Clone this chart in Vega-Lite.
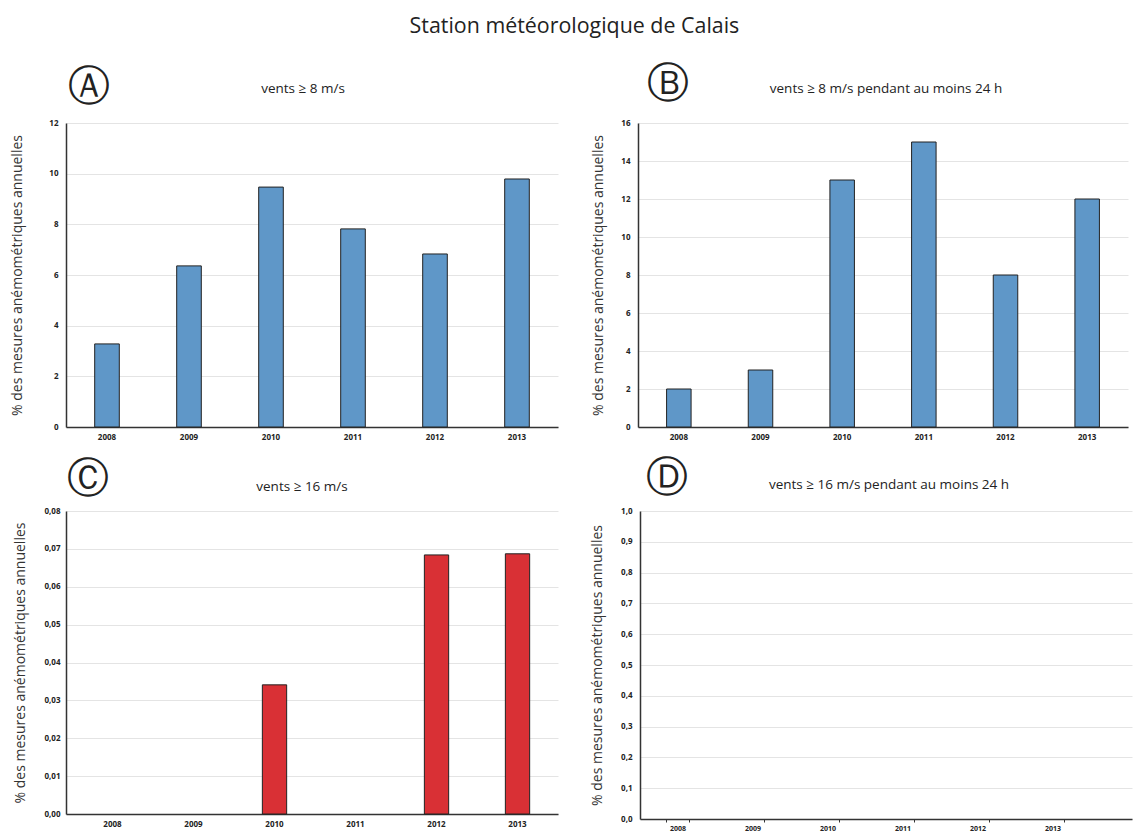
{
  "$schema": "https://vega.github.io/schema/vega-lite/v6.json",
  "padding": {"left": 10, "top": 15, "right": 2, "bottom": 0},
  "background": "white",
  "title": {"text": "Station météorologique de Calais", "fontSize": 21.4, "font": "Open Sans", "fontWeight": "normal", "color": "#222", "anchor": "middle", "frame": "bounds", "offset": 25, "dx": 3},
  "datasets": {
    "a": [{"annee": "2008", "valeur": 3.28}, {"annee": "2009", "valeur": 6.36}, {"annee": "2010", "valeur": 9.47}, {"annee": "2011", "valeur": 7.82}, {"annee": "2012", "valeur": 6.83}, {"annee": "2013", "valeur": 9.79}],
    "b": [{"annee": "2008", "valeur": 2}, {"annee": "2009", "valeur": 3}, {"annee": "2010", "valeur": 13}, {"annee": "2011", "valeur": 15}, {"annee": "2012", "valeur": 8}, {"annee": "2013", "valeur": 12}],
    "c": [{"annee": "2008", "valeur": 0}, {"annee": "2009", "valeur": 0}, {"annee": "2010", "valeur": 0.0341}, {"annee": "2011", "valeur": 0}, {"annee": "2012", "valeur": 0.0684}, {"annee": "2013", "valeur": 0.0687}],
    "d": [{"annee": "2008", "valeur": 0}, {"annee": "2009", "valeur": 0}, {"annee": "2010", "valeur": 0}, {"annee": "2011", "valeur": 0}, {"annee": "2012", "valeur": 0}, {"annee": "2013", "valeur": 0}]
  },
  "config": {
    "locale": {"number": {"decimal": ",", "thousands": " ", "grouping": [3], "currency": ["", " €"]}},
    "view": {"stroke": null},
    "font": "Open Sans",
    "title": {"font": "Open Sans", "fontSize": 13.5, "fontWeight": "normal", "color": "#222"},
    "axis": {
      "labelFont": "Open Sans", "labelFontWeight": "bold", "labelFontSize": 8, "labelColor": "#222",
      "titleFont": "Open Sans", "titleFontWeight": "normal", "titleFontSize": 14, "titleColor": "#333",
      "domainColor": "#333", "domainWidth": 1.5, "gridColor": "#e4e4e4", "gridWidth": 1
    }
  },
  "spacing": 15,
  "vconcat": [
    {
      "spacing": 33,
      "hconcat": [
        {
          "width": 492, "height": 304,
          "data": {"name": "a"},
          "title": {"text": "vents ≥ 8 m/s", "anchor": "middle", "frame": "group", "dx": -9, "dy": 34},
          "layer": [
            {
              "transform": [{"filter": "datum.valeur > 0"}],
              "mark": {"type": "bar", "color": "#5f97c8", "stroke": "#222", "strokeWidth": 1},
              "encoding": {
                "x": {"field": "annee", "type": "ordinal", "scale": {"domain": ["2008", "2009", "2010", "2011", "2012", "2013"], "paddingInner": 0.7, "paddingOuter": 0.35}, "axis": {"title": null, "labelAngle": 0, "ticks": false, "labelPadding": 6, "grid": false}},
                "y": {"field": "valeur", "type": "quantitative", "scale": {"domain": [0, 12]}, "axis": {"values": [0, 2, 4, 6, 8, 10, 12], "ticks": false, "labelPadding": 8, "title": "% des mesures anémométriques annuelles", "titlePadding": 24}}
              }
            },
            {
              "mark": {"type": "tick", "opacity": 0},
              "encoding": {
                "x": {"field": "annee", "type": "ordinal", "axis": {"orient": "top", "labels": false, "ticks": false, "domain": false, "grid": false, "title": "Ⓐ", "titleFont": "DejaVu Sans", "titleFontSize": 42, "titleColor": "#222", "titleAlign": "center", "titleBaseline": "middle", "titleX": 22, "titleY": -37}}
              }
            }
          ],
          "resolve": {"axis": {"x": "independent"}}
        },
        {
          "width": 490, "height": 304,
          "data": {"name": "b"},
          "title": {"text": "vents ≥ 8 m/s pendant au moins 24 h", "anchor": "middle", "frame": "group", "dx": 3, "dy": 37},
          "layer": [
            {
              "transform": [{"filter": "datum.valeur > 0"}],
              "mark": {"type": "bar", "color": "#5f97c8", "stroke": "#222", "strokeWidth": 1},
              "encoding": {
                "x": {"field": "annee", "type": "ordinal", "scale": {"domain": ["2008", "2009", "2010", "2011", "2012", "2013"], "paddingInner": 0.7, "paddingOuter": 0.35}, "axis": {"title": null, "labelAngle": 0, "ticks": false, "labelPadding": 6, "grid": false}},
                "y": {"field": "valeur", "type": "quantitative", "scale": {"domain": [0, 16]}, "axis": {"values": [0, 2, 4, 6, 8, 10, 12, 14, 16], "ticks": false, "labelPadding": 8, "title": "% des mesures anémométriques annuelles", "titlePadding": 15}}
              }
            },
            {
              "mark": {"type": "tick", "opacity": 0},
              "encoding": {
                "x": {"field": "annee", "type": "ordinal", "axis": {"orient": "top", "labels": false, "ticks": false, "domain": false, "grid": false, "title": "Ⓑ", "titleFont": "DejaVu Sans", "titleFontSize": 42, "titleColor": "#222", "titleAlign": "center", "titleBaseline": "middle", "titleX": 29, "titleY": -40}}
              }
            }
          ],
          "resolve": {"axis": {"x": "independent"}}
        }
      ]
    },
    {
      "spacing": 32,
      "hconcat": [
        {
          "width": 492, "height": 303,
          "data": {"name": "c"},
          "title": {"text": "vents ≥ 16 m/s", "anchor": "middle", "frame": "group", "dx": -10, "dy": 40},
          "layer": [
            {
              "transform": [{"filter": "datum.valeur > 0"}],
              "mark": {"type": "bar", "color": "#d93035", "stroke": "#222", "strokeWidth": 1},
              "encoding": {
                "x": {"field": "annee", "type": "ordinal", "scale": {"domain": ["2008", "2009", "2010", "2011", "2012", "2013"], "paddingInner": 0.7, "paddingOuter": 0.387, "align": 0.548}, "axis": {"title": null, "labelAngle": 0, "ticks": false, "labelPadding": 6, "grid": false}},
                "y": {"field": "valeur", "type": "quantitative", "scale": {"domain": [0, 0.08]}, "axis": {"values": [0, 0.01, 0.02, 0.03, 0.04, 0.05, 0.06, 0.07, 0.08], "format": ".2f", "ticks": false, "labelPadding": 6, "title": "% des mesures anémométriques annuelles", "titlePadding": 16}}
              }
            },
            {
              "mark": {"type": "tick", "opacity": 0},
              "encoding": {
                "x": {"field": "annee", "type": "ordinal", "axis": {"orient": "top", "labels": false, "ticks": false, "domain": false, "grid": false, "title": "Ⓒ", "titleFont": "DejaVu Sans", "titleFontSize": 42, "titleColor": "#222", "titleAlign": "center", "titleBaseline": "middle", "titleX": 21, "titleY": -33}}
              }
            }
          ],
          "resolve": {"axis": {"x": "independent"}}
        },
        {
          "width": 492, "height": 308,
          "data": {"name": "d"},
          "title": {"text": "vents ≥ 16 m/s pendant au moins 24 h", "anchor": "middle", "frame": "group", "dx": 3, "dy": 39},
          "layer": [
            {
              "transform": [{"filter": "datum.valeur > 0"}],
              "mark": {"type": "bar", "color": "#d93035", "stroke": "#222", "strokeWidth": 1},
              "encoding": {
                "x": {"field": "annee", "type": "ordinal", "scale": {"domain": ["2008", "2009", "2010", "2011", "2012", "2013"], "paddingInner": 0.7, "paddingOuter": 0.63, "align": 0.278}, "axis": {"title": null, "labelAngle": 0, "ticks": true, "tickBand": "extent", "tickSize": 3, "tickColor": "#333", "labelPadding": 2, "labelFontSize": 7, "grid": false}},
                "y": {"field": "valeur", "type": "quantitative", "scale": {"domain": [0, 1]}, "axis": {"values": [0, 0.1, 0.2, 0.3, 0.4, 0.5, 0.6, 0.7, 0.8, 0.9, 1], "format": ".1f", "ticks": false, "labelPadding": 8, "title": "% des mesures anémométriques annuelles", "titlePadding": 16}}
              }
            },
            {
              "mark": {"type": "tick", "opacity": 0},
              "encoding": {
                "x": {"field": "annee", "type": "ordinal", "axis": {"orient": "top", "labels": false, "ticks": false, "domain": false, "grid": false, "title": "Ⓓ", "titleFont": "DejaVu Sans", "titleFontSize": 42, "titleColor": "#222", "titleAlign": "center", "titleBaseline": "middle", "titleX": 26, "titleY": -34}}
              }
            }
          ],
          "resolve": {"axis": {"x": "independent"}}
        }
      ]
    }
  ]
}
